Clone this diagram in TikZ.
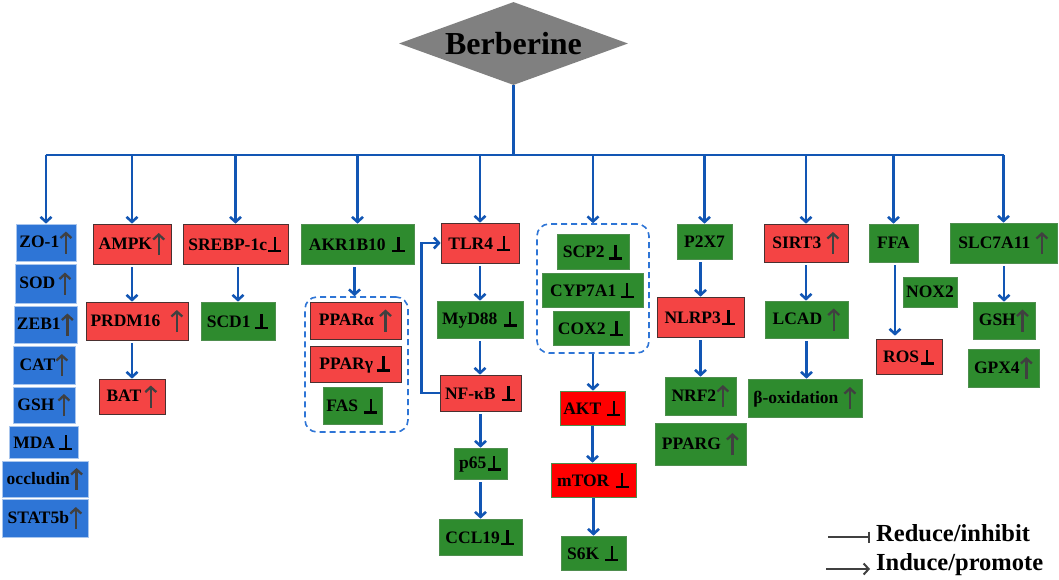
\documentclass[tikz,border=0pt]{standalone}
\usepackage{fontspec}
\setmainfont{Liberation Serif}
\usetikzlibrary{shapes.geometric,arrows.meta}
\definecolor{redc}{HTML}{F44444}
\definecolor{purered}{HTML}{FF0000}
\definecolor{greenc}{HTML}{2E8B2E}
\definecolor{bluec}{HTML}{2E75D6}
\definecolor{redborder}{HTML}{4A3030}
\definecolor{greenborder}{HTML}{4E8E4E}
\definecolor{blueborder}{HTML}{A9C6EE}
\definecolor{linkblue}{HTML}{1256B4}
\definecolor{dashblue}{HTML}{2E75D6}
\definecolor{upgray}{HTML}{404040}
\definecolor{diagray}{HTML}{808080}
\newcommand\UP{\tikz[baseline=0pt,x=1pt,y=1pt]\draw[draw=upgray,line width=2.3pt,-{Straight Barb[length=5pt,width=11pt]}] (0,-6)--(0,16);}
\newcommand\DN{\tikz[baseline=0pt,x=1pt,y=1pt]\draw[draw=black,line width=2.6pt] (0,-1)--(0,13) (-6.5,-1)--(6.5,-1);}
\tikzset{
 bx/.style={rectangle, inner sep=0pt, font=\bfseries\fontsize{17.5}{19}\selectfont, text=black, line width=0.7pt},
 rb/.style={bx, fill=redc, draw=redborder},
 prb/.style={bx, fill=purered, draw=greenborder},
 gb/.style={bx, fill=greenc, draw=greenborder},
 bb/.style={bx, fill=bluec, draw=blueborder},
 sz/.style 2 args={minimum width=#1pt, minimum height=#2pt},
 grp/.style={rectangle, draw=dashblue, dash pattern=on 6pt off 4pt, line width=1.6pt, rounded corners=12pt, inner sep=0pt},
 arr/.style={draw=linkblue, line width=2.6pt, -{Straight Barb[length=5pt,width=11pt]}, shorten <=3pt},
 bus/.style={draw=linkblue, line width=2.6pt},
 legtxt/.style={font=\bfseries\fontsize{24.5}{26}\selectfont, inner sep=0pt, anchor=west},
 legline/.style={draw=upgray, line width=2pt},
}
\begin{document}
\begin{tikzpicture}[x=1pt,y=-1pt]
\fill[white] (0,0) rectangle (1059,579);
\useasboundingbox (0,0) rectangle (1059,579);

% root
\node[diamond, aspect=2.76, fill=diagray, inner sep=0pt, minimum width=229pt, minimum height=83pt,
      font=\bfseries\fontsize{32}{34}\selectfont] (ber) at (513.5,43.5) {Berberine};

% groups
\node[grp, sz={103}{135}] (grp1) at (356.5,364.5) {};
\node[grp, sz={112}{129}] (grp2) at (593,288.5) {};

% column 1 (blue)
\node[bb, sz={60}{37}] (zo1) at (46,242.5) {ZO-1\UP};
\node[bb, sz={61}{39}] (sod) at (45.5,283.5) {SOD\,\UP};
\node[bb, sz={63}{37}] (zeb1) at (45.5,324.5) {ZEB1\UP};
\node[bb, sz={62}{38}] (cat) at (44,365) {CAT\UP};
\node[bb, sz={62}{36}] (gsha) at (44,405) {GSH\,\UP};
\node[bb, sz={69}{32}] (mda) at (43.5,442) {MDA\,\DN};
\node[bb, sz={86}{36}] (occl) at (45,479) {occludin\UP};
\node[bb, sz={86}{38}] (stat) at (45,518) {STAT5b\UP};

% column 2
\node[rb, sz={78}{40}] (ampk) at (132,244) {AMPK\UP};
\node[rb, sz={102}{38}] (prdm) at (137,321) {PRDM16\;\;\UP};
\node[rb, sz={66}{35}] (bat) at (132,396.5) {BAT\,\UP};

% column 3
\node[rb, sz={105}{40}] (srebp) at (235.5,244) {SREBP-1c\DN};
\node[gb, sz={74}{38}] (scd1) at (238,321) {SCD1\,\DN};

% column 4
\node[gb, sz={113}{40}] (akr) at (357.5,244) {AKR1B10\;\DN};
\node[rb, sz={91}{37}] (ppara) at (355.5,320.5) {PPARα\;\UP};
\node[rb, sz={91}{36}] (pparg) at (355.5,364) {PPARγ\,\DN};
\node[gb, sz={59}{37}] (fas) at (352.5,405.5) {FAS\;\DN};

% column 5
\node[rb, sz={78}{40}] (tlr4) at (480,243) {TLR4\,\DN};
\node[gb, sz={86}{37}] (myd) at (480,319.5) {MyD88\;\DN};
\node[rb, sz={81}{36}] (nfkb) at (480.5,393) {NF-κB\;\DN};
\node[gb, sz={53}{31}] (p65) at (480.5,463.5) {p65\DN};
\node[gb, sz={83}{36}] (ccl) at (480.5,537) {CCL19\DN};

% column 6
\node[gb, sz={72}{35}] (scp2) at (593,251.5) {SCP2\,\DN};
\node[gb, sz={101}{34}] (cyp) at (592.5,290) {CYP7A1\,\DN};
\node[gb, sz={76}{34}] (cox2) at (591,328) {COX2\,\DN};
\node[prb, sz={65}{34}] (akt) at (592.5,408) {AKT\;\DN};
\node[prb, sz={85}{34}] (mtor) at (593.5,480) {mTOR\;\DN};
\node[gb, sz={65}{34}] (s6k) at (593.5,553) {S6K\;\DN};

% column 7
\node[gb, sz={55}{35}] (p2x7) at (704.5,241.5) {P2X7};
\node[rb, sz={87}{40}] (nlrp3) at (700.5,317) {NLRP3\DN};
\node[gb, sz={71}{38}] (nrf2) at (700.5,396) {NRF2\UP};
\node[gb, sz={91}{42}] (ppargb) at (700.5,444) {PPARG\;\UP};

% column 8
\node[rb, sz={84}{38}] (sirt3) at (806,243) {SIRT3\;\UP};
\node[gb, sz={83}{37}] (lcad) at (806.5,319.5) {LCAD\;\UP};
\node[gb, sz={114}{38}] (box) at (805,398) {β-oxidation\;\UP};

% column 9
\node[gb, sz={49}{38}] (ffa) at (893.5,243) {FFA};
\node[gb, sz={54}{30}] (nox2) at (930,292) {NOX2};
\node[rb, sz={66}{35}] (ros) at (909,356.5) {ROS\DN};

% column 10
\node[gb, sz={107}{40}] (slc) at (1003.5,243) {SLC7A11\;\UP};
\node[gb, sz={62}{37}] (gshb) at (1004,320.5) {GSH\UP};
\node[gb, sz={71}{38}] (gpx4) at (1003.5,368) {GPX4\UP};

% bus
\coordinate (busL) at (45.7,155);
\coordinate (busR) at (1003.5,155);
\draw[bus] (ber.south) -- (ber.south |- busL);
\draw[bus] (busL) -- (busR);
\foreach \n in {zo1,ampk,srebp,akr,tlr4,grp2,p2x7,sirt3,ffa,slc}
  \draw[arr, shorten <=0pt] (\n.north |- busL) -- (\n.north);

% inner arrows
\draw[arr] (ampk.south) -- (ampk.south |- prdm.north);
\draw[arr] (bat.north |- prdm.south) -- (bat.north);
\draw[arr] (scd1.north |- srebp.south) -- (scd1.north);
\draw[arr] ([xshift=-3pt]akr.south) -- ([xshift=-3pt]akr.south |- grp1.north);
\draw[arr] (tlr4.south) -- (tlr4.south |- myd.north);
\draw[arr] (myd.south) -- (myd.south |- nfkb.north);
\draw[arr] (nfkb.south) -- (nfkb.south |- p65.north);
\draw[arr] (p65.south) -- (p65.south |- ccl.north);
\draw[arr, shorten <=0pt] (nfkb.west) -- ++(-18,0) |- (tlr4.west);
\draw[arr, shorten <=0pt] (grp2.south) -- (grp2.south |- akt.north);
\draw[arr, shorten <=1pt] (akt.south) -- (akt.south |- mtor.north);
\draw[arr, shorten <=1pt] (mtor.south) -- (mtor.south |- s6k.north);
\draw[arr] (nlrp3.north |- p2x7.south) -- (nlrp3.north);
\draw[arr] (nlrp3.south) -- (nlrp3.south |- nrf2.north);
\draw[arr] (sirt3.south) -- (sirt3.south |- lcad.north);
\draw[arr] (lcad.south) -- (lcad.south |- box.north);
\draw[arr, shorten >=3pt] ([xshift=1.5pt]ffa.south) -- ([xshift=1.5pt]ffa.south |- ros.north);
\draw[arr] (gshb.north |- slc.south) -- (gshb.north);

% legend
\node[legtxt] (legI) at (876,533) {Reduce/inhibit};
\node[legtxt] (legP) at (876,565) {Induce/promote};
\coordinate (li) at (828,537);
\coordinate (lp) at (826,569);
\draw[legline, -{Bar[width=11pt,line width=2pt]}] (li) -- ([xshift=-6pt]li -| legI.west);
\draw[legline, -{Straight Barb[length=5pt,width=11pt]}] (lp) -- ([xshift=-6pt]lp -| legP.west);
\end{tikzpicture}
\end{document}
